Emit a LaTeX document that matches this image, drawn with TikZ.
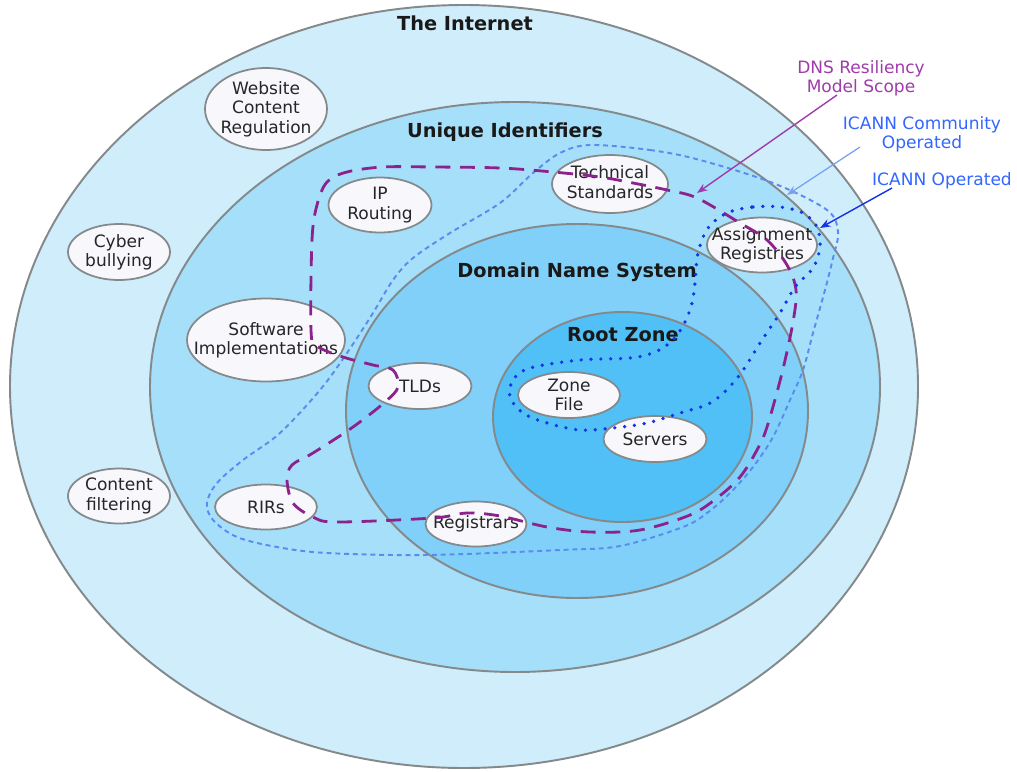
\documentclass[tikz,border=0pt]{standalone}
\usepackage{fontspec}
\setmainfont{DejaVu Sans}
\usetikzlibrary{shapes.geometric,arrows.meta}
\definecolor{ring1}{HTML}{CFEDFB}
\definecolor{ring2}{HTML}{A6DFF9}
\definecolor{ring3}{HTML}{80D0F9}
\definecolor{ring4}{HTML}{50C0F6}
\definecolor{ringline}{HTML}{84898C}
\definecolor{bubfill}{HTML}{F8F8FC}
\definecolor{scopepurple}{HTML}{8C238C}
\definecolor{labelpurple}{HTML}{A03CAA}
\definecolor{commblue}{HTML}{5A8CF0}
\definecolor{commarrow}{HTML}{78A0F0}
\definecolor{opblue}{HTML}{1432E6}
\definecolor{labelblue}{HTML}{3366FF}
\begin{document}
\begin{tikzpicture}[x=0.02cm,y=-0.02cm,
  ring/.style={draw=ringline,line width=1.1pt},
  bub/.style={ellipse,draw=ringline,fill=bubfill,line width=1pt,inner sep=0pt},
  bubtxt/.style={align=center,inner sep=0pt,font=\fontsize{9.7}{11}\selectfont,text=black!85},
  ttl/.style={font=\bfseries\fontsize{11}{13}\selectfont,anchor=base,text=black!90},
  lab/.style={font=\fontsize{9.7}{11}\selectfont,align=center,inner sep=0pt},
  dnsloop/.style={draw=scopepurple,line width=1.6pt,dash pattern=on 8.5pt off 5.5pt},
  commloop/.style={draw=commblue,line width=1.1pt,dash pattern=on 2.8pt off 2.2pt},
  oploop/.style={draw=opblue,line width=2.1pt,line cap=round,dash pattern=on 0pt off 5.6pt},
  callout/.style={-{Stealth[length=6pt,width=4.5pt]}}
]
\useasboundingbox (0,0) rectangle (1017,771);
\fill[white] (0,0) rectangle (1017,771);

% concentric regions
\draw[ring,fill=ring1] (464,386.5) ellipse [x radius=454, y radius=381.5];
\draw[ring,fill=ring2] (515,387) ellipse [x radius=365, y radius=285];
\draw[ring,fill=ring3] (577,411) ellipse [x radius=231, y radius=187];
\draw[ring,fill=ring4] (622.5,417) ellipse [x radius=129.5, y radius=105];

% titles
\node[ttl] (tInternet) at (465,30) {The Internet};
\node[ttl] (tUnique) at (505,137) {Unique Identifiers};
\node[ttl] (tDNS) at (577,277) {Domain Name System};
\node[ttl] (tRoot) at (623,341) {Root Zone};

% bubbles
\node[bub,minimum width=2.44cm,minimum height=1.64cm] (web) at (266,109) {};
\node[bubtxt] (webT) at (web) {Website\\Content\\Regulation};
\node[bub,minimum width=2.04cm,minimum height=1.12cm] (cyber) at (119,252) {};
\node[bubtxt] (cyberT) at (cyber) {Cyber\\bullying};
\node[bub,minimum width=2.04cm,minimum height=1.10cm] (filter) at (119,496) {};
\node[bubtxt] (filterT) at (filter) {Content\\filtering};
\node[bub,minimum width=2.06cm,minimum height=1.10cm] (iprt) at (380,205) {};
\node[bubtxt] (iprtT) at (iprt) {IP\\Routing};
\node[bub,minimum width=2.32cm,minimum height=1.16cm] (tech) at (610,184) {};
\node[bubtxt] (techT) at (610,182) {Technical\\Standards};
\node[bub,minimum width=3.16cm,minimum height=1.66cm] (soft) at (266,340) {};
\node[bubtxt] (softT) at (soft) {Software\\Implementations};
\node[bub,minimum width=2.06cm,minimum height=0.92cm] (tld) at (420,386) {};
\node[bubtxt] (tldT) at (tld) {TLDs};
\node[bub,minimum width=2.04cm,minimum height=0.90cm] (rir) at (266,507) {};
\node[bubtxt] (rirT) at (rir) {RIRs};
\node[bub,minimum width=2.02cm,minimum height=0.90cm] (reg) at (476,524) {};
\node[bubtxt] (regT) at (reg) {Registrars};
\node[bub,minimum width=2.04cm,minimum height=0.92cm] (zone) at (569,395) {};
\node[bubtxt] (zoneT) at (zone) {Zone\\File};
\node[bub,minimum width=2.06cm,minimum height=0.92cm] (serv) at (655,439) {};
\node[bubtxt] (servT) at (serv) {Servers};
\node[bub,minimum width=2.20cm,minimum height=1.10cm] (assign) at (762,245) {};
\node[bubtxt] (assignT) at (assign) {Assignment\\Registries};

% ICANN community operated scope
\draw[commloop] plot[smooth cycle,tension=0.55] coordinates {
 (590,145) (650,150) (700,160) (773,183) (827,210) (838,232) (833,258) (825,290)
 (813,333) (803,370) (790,400) (773,437) (753,467) (730,493) (707,513) (683,527)
 (620,546) (560,550) (427,555) (327,553) (277,547) (237,537) (213,520) (207,503)
 (217,483) (243,460) (280,433) (320,390) (347,353) (373,313) (393,280) (413,258)
 (450,233) (500,203) (533,173) (560,153)};

% DNS resiliency model scope
\draw[dnsloop] plot[smooth cycle,tension=0.55] coordinates {
 (311,330) (312,240) (317,205) (327,182) (347,172) (383,167) (433,167) (500,168)
 (553,172) (600,177) (633,183) (667,190) (697,198) (740,223) (767,240) (787,265)
 (796,290) (793,322) (782,373) (767,427) (757,450) (740,477) (717,498) (690,515)
 (640,530) (590,532) (547,527) (500,516) (467,513) (433,518) (337,522) (313,517)
 (293,503) (287,480) (292,465) (313,453) (353,427) (385,402) (398,387) (393,370)
 (373,365) (343,357) (317,346)};

% ICANN operated scope
\draw[oploop] plot[smooth cycle,tension=0.55] coordinates {
 (727,213) (753,207) (780,207) (803,213) (817,227) (820,247) (813,268) (795,287)
 (780,313) (762,340) (738,377) (712,402) (680,413) (647,423) (613,428) (580,430)
 (547,423) (523,413) (510,397) (513,380) (530,368) (580,360) (630,358) (655,352)
 (673,340) (685,322) (692,303) (695,283) (698,253) (708,228)};

% labels
\node[lab,text=labelpurple] (lDNS) at (861,78) {DNS Resiliency\\Model Scope};
\node[lab,text=labelblue] (lComm) at (922,134) {ICANN Community\\Operated};
\node[lab,text=labelblue,anchor=base] (lOp) at (942,185) {ICANN Operated};

% callout arrows
\coordinate (sDNS) at (837,95);
\coordinate (eDNS) at (697,193);
\coordinate (sComm) at (860,147);
\coordinate (eComm) at (787,195);
\coordinate (sOp) at (892,188);
\coordinate (eOp) at (820,228);
\draw[callout,draw=labelpurple,fill=labelpurple,line width=0.8pt] (sDNS) -- (eDNS);
\draw[callout,draw=commarrow,fill=commarrow,line width=0.7pt] (sComm) -- (eComm);
\draw[callout,draw=opblue,fill=opblue,line width=0.8pt] (sOp) -- (eOp);
\end{tikzpicture}
\end{document}
